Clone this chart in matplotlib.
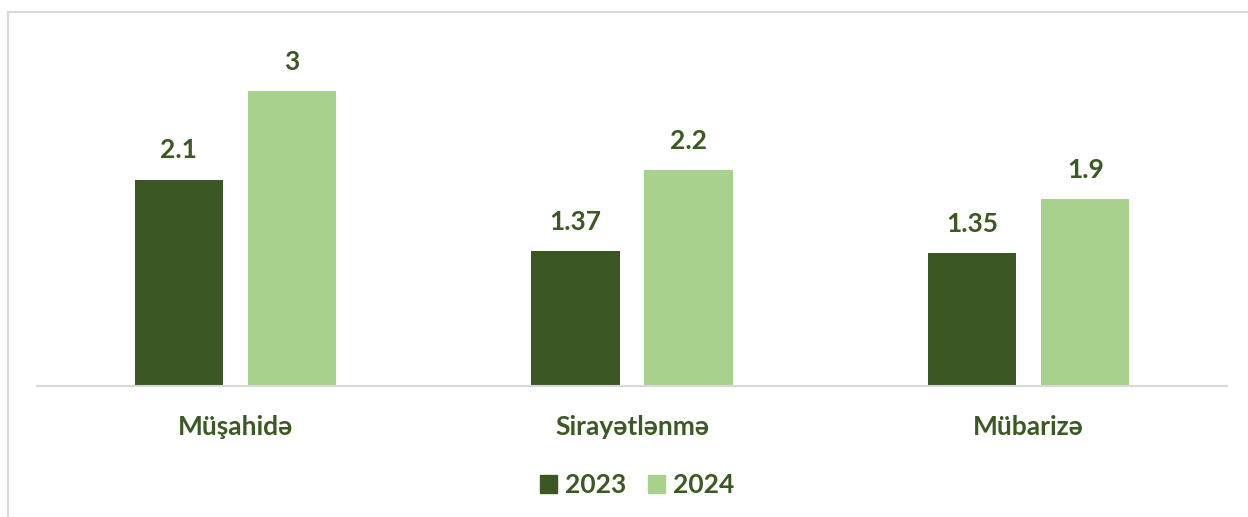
import matplotlib

matplotlib.use("Agg")
import matplotlib.pyplot as plt
import numpy as np
from matplotlib.patches import Patch

categories = ["Müşahidə", "Sirayətlənmə", "Mübarizə"]
values_2023 = [2.1, 1.37, 1.35]
values_2024 = [3, 2.2, 1.9]
labels_2023 = ["2.1", "1.37", "1.35"]
labels_2024 = ["3", "2.2", "1.9"]
series_names = ["2023", "2024"]

DARK = "#3A5724"
LIGHT = "#A9D18E"
TEXT = "#3B5A23"
FS = 19

plt.rcParams["font.family"] = ["Lato", "DejaVu Sans"]

fig = plt.figure(figsize=(12.48, 5.17), dpi=100)
ax = fig.add_axes([37 / 1248, (517 - 386) / 517, 1190 / 1248, 344 / 517])

x = np.arange(len(categories))
width = 0.222
offset = 0.1425
bars1 = ax.bar(x - offset, values_2023, width, color=DARK)
bars2 = ax.bar(x + offset, values_2024, width, color=LIGHT)

for bars, labels in ((bars1, labels_2023), (bars2, labels_2024)):
    for b, lab in zip(bars, labels):
        ax.annotate(lab, (b.get_x() + b.get_width() / 2, b.get_height()),
                    xytext=(0, 21), textcoords="offset points",
                    ha="center", va="center", fontsize=FS, fontweight="bold", color=TEXT)

ax.set_xlim(-0.5, 2.5)
ax.set_ylim(0, 3.5)
ax.set_xticks(x)
ax.set_xticklabels(categories, fontsize=FS, fontweight="bold", color=TEXT)
ax.tick_params(axis="x", length=0, pad=21)
ax.set_yticks([])
for side in ("top", "right", "left"):
    ax.spines[side].set_visible(False)
ax.spines["bottom"].set_color("#D9D9D9")
ax.spines["bottom"].set_linewidth(1.5)

handles = [Patch(color=DARK), Patch(color=LIGHT)]
fig.legend(handles, series_names, loc="center", bbox_to_anchor=(637 / 1248, 1 - 485 / 517),
           ncol=2, frameon=False, prop={"size": FS, "weight": "bold"},
           labelcolor=TEXT, handlelength=0.65, handleheight=0.65, handletextpad=0.3,
           columnspacing=0.8)

# outer frame (only top and left edges visible in the crop)
fig.add_artist(plt.Line2D([8 / 1248, 1], [1 - 12 / 517, 1 - 12 / 517], color="#D9D9D9", lw=1.5))
fig.add_artist(plt.Line2D([8 / 1248, 8 / 1248], [0, 1 - 12 / 517], color="#D9D9D9", lw=1.5))

fig.savefig("out.png", dpi=100)
